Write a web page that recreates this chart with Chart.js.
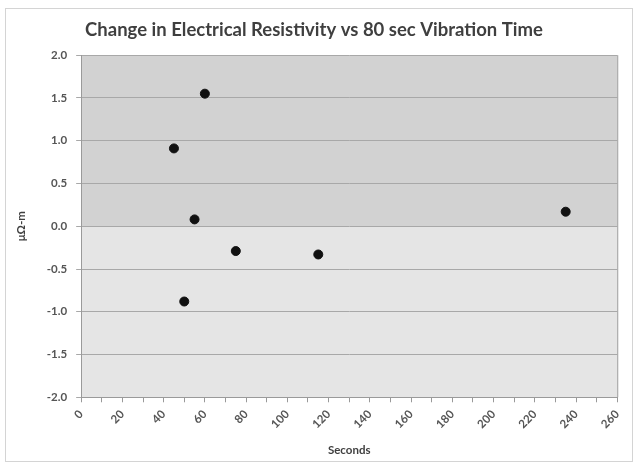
<!DOCTYPE html>
<html>
<head>
<meta charset="utf-8">
<script src="https://cdn.jsdelivr.net/npm/chart.js@4/dist/chart.umd.min.js"></script>
<style>
  html, body { margin: 0; padding: 0; background: #fff; }
  #wrap { position: absolute; left: 5px; top: 8px; width: 628px; height: 454px; border: 1px solid #d4d4d4; box-sizing: border-box; }
  canvas { display: block; }
</style>
</head>
<body>
<div id="wrap"><canvas id="chart" width="626" height="452"></canvas></div>
<script>
// ข้อมูลที่อ่านจากกราฟ
const seconds = [45, 50, 55, 60, 75, 115, 235];
const resistivity = [0.91, -0.88, 0.08, 1.55, -0.29, -0.33, 0.17];
const xMin = 0, xMax = 260;
const yMin = -2, yMax = 2;

const points = seconds.map((s, i) => ({ x: s, y: resistivity[i] }));

// พื้นหลังสองโทน (บน/ล่างของเส้น 0)
const bandPlugin = {
    id: 'bands',
    beforeDraw(chart) {
        const { ctx, chartArea: a, scales } = chart;
        const zero = scales.y.getPixelForValue(0);
        ctx.save();
        ctx.fillStyle = '#d2d2d2';
        ctx.fillRect(a.left, a.top, a.right - a.left, zero - a.top);
        ctx.fillStyle = '#e5e5e5';
        ctx.fillRect(a.left, zero, a.right - a.left, a.bottom - zero);
        ctx.restore();
    },
    afterDatasetsDraw(chart) {
        const { ctx, chartArea: a } = chart;
        ctx.save();
        ctx.strokeStyle = '#9a9a9a';
        ctx.lineWidth = 1;
        ctx.beginPath();
        ctx.moveTo(a.right + 0.5, a.top);
        ctx.lineTo(a.right + 0.5, a.bottom);
        ctx.stroke();
        ctx.restore();
    }
};

const tickFont = { family: 'Lato', size: 11.5, weight: 'bold' };

new Chart(document.getElementById('chart'), {
    type: 'scatter',
    data: {
        datasets: [{
            data: points,
            backgroundColor: '#111',
            borderColor: '#111',
            pointRadius: 4.5,
            pointHoverRadius: 4.5
        }]
    },
    options: {
        responsive: false,
        animation: false,
        layout: { padding: { left: 4, right: 14, top: 0, bottom: 0 } },
        plugins: {
            legend: { display: false },
            tooltip: { enabled: false },
            title: {
                display: true,
                text: 'Change in Electrical Resistivity vs 80 sec Vibration Time',
                color: '#3f3f3f',
                font: { family: 'Lato', size: 18.5, weight: 'bold' },
                padding: { top: 10, bottom: 14 }
            }
        },
        scales: {
            x: {
                type: 'linear',
                min: xMin,
                max: xMax,
                ticks: {
                    stepSize: 10,
                    autoSkip: false,
                    maxRotation: 45,
                    minRotation: 45,
                    padding: 5,
                    color: '#555',
                    font: tickFont,
                    callback: v => (v % 20 === 0 ? v : '')
                },
                grid: { drawOnChartArea: false, tickLength: 5, color: '#999' },
                border: { color: '#9a9a9a' },
                title: {
                    display: true,
                    text: 'Seconds',
                    color: '#404040',
                    font: { family: 'Lato', size: 11.5, weight: 'bold' },
                    padding: { top: 7 }
                }
            },
            y: {
                min: yMin,
                max: yMax,
                ticks: {
                    stepSize: 0.5,
                    color: '#555',
                    font: tickFont,
                    padding: 9,
                    callback: v => v.toFixed(1)
                },
                grid: { color: '#a8a8a8', tickLength: 5 },
                border: { color: '#9a9a9a' },
                title: {
                    display: true,
                    text: 'μΩ-m',
                    color: '#404040',
                    font: { family: 'Lato', size: 11.5, weight: 'bold' },
                    padding: { bottom: 10 }
                }
            }
        }
    },
    plugins: [bandPlugin]
});
</script>
</body>
</html>
